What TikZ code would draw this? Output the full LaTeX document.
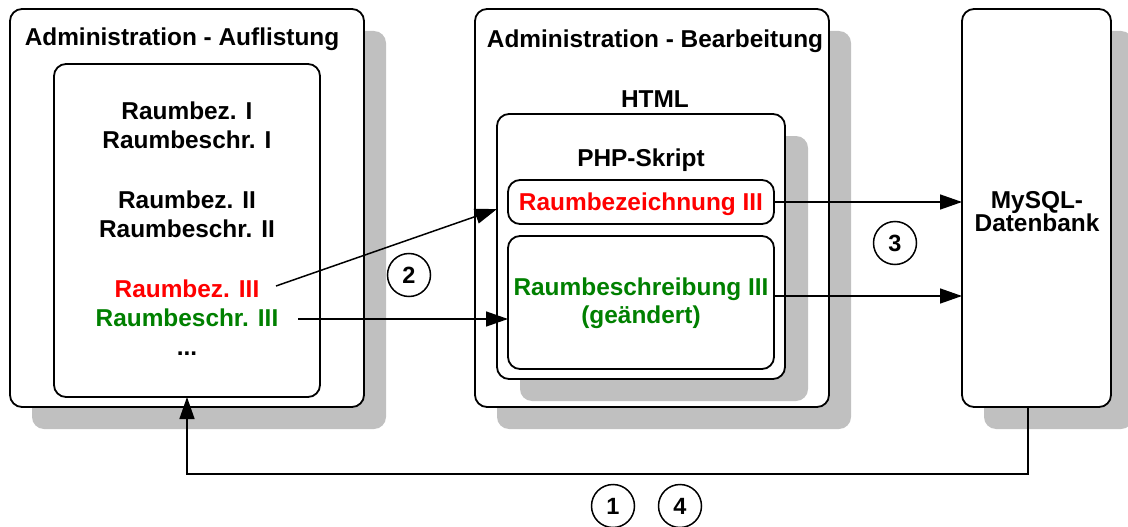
\documentclass[tikz,border=0pt]{standalone}
\usepackage{fontspec}
\setmainfont{Liberation Sans}
\usetikzlibrary{arrows.meta,shadows}
\definecolor{shade}{HTML}{C0C0C0}
\definecolor{hired}{HTML}{FF0000}
\definecolor{higreen}{HTML}{008000}
\begin{document}
\begin{tikzpicture}[x=1pt,y=-1pt,
  panel/.style={draw, line width=1.8pt, rounded corners=12pt, fill=white,
    inner sep=0pt, outer sep=0pt},
  shadowed/.style={drop shadow={shadow xshift=22pt, shadow yshift=-22pt,
    fill=shade, opacity=1}},
  txt/.style={font=\fontsize{24.4}{28}\selectfont\bfseries, inner sep=0pt, anchor=base},
  conn/.style={line width=1.5pt, -{Triangle[length=22pt,width=15pt]}},
  badge/.style={circle, draw, line width=1.5pt, minimum size=43pt, inner sep=0pt,
    font=\fontsize{23.5}{26}\selectfont\bfseries}
]
\useasboundingbox (0,0) rectangle (1128,527);

% --- listing page ---
\node[panel, shadowed, minimum width=354pt, minimum height=398pt] (lout) at (187,208) {};
\node[txt] (ltitle) at (182,46) {Administration - Auflistung};
\node[panel, minimum width=266pt, minimum height=333pt] (lin) at (187,230.5) {};
\node[txt] (rb1) at (187,119.5) {Raumbez. I};
\node[txt] (rs1) at (187,148) {Raumbeschr. I};
\node[txt] (rb2) at (187,208) {Raumbez. II};
\node[txt] (rs2) at (187,237) {Raumbeschr. II};
\node[txt, text=hired] (rb3) at (187,297) {Raumbez. III};
\node[txt, text=higreen] (rs3) at (187,326) {Raumbeschr. III};
\node[txt] (dots) at (187,355) {...};

% --- edit page ---
\node[panel, shadowed, minimum width=354pt, minimum height=398pt] (mout) at (652,208) {};
\node[txt] (mtitle) at (655,47.5) {Administration - Bearbeitung};
\node[txt] (htmltxt) at (655,107) {HTML};
\node[panel, drop shadow={shadow xshift=23pt, shadow yshift=-22pt, fill=shade, opacity=1},
  minimum width=288pt, minimum height=265pt] (html) at (641,246.5) {};
\node[txt] (php) at (641,166) {PHP-Skript};
\node[panel, minimum width=266pt, minimum height=44pt] (rbz) at (641,202) {};
\node[txt, text=hired] (rbztxt) at (641,210) {Raumbezeichnung III};
\node[panel, minimum width=266pt, minimum height=133pt] (rbs) at (641,302.5) {};
\node[txt, text=higreen] (rbstxt1) at (641,295) {Raumbeschreibung III};
\node[txt, text=higreen] (rbstxt2) at (641,323) {(geändert)};

% --- database ---
\node[panel, shadowed, minimum width=149pt, minimum height=398pt] (db) at (1036.5,208) {};
\node[txt] (dbtxt1) at (1037,208) {MySQL-};
\node[txt] (dbtxt2) at (1037,231) {Datenbank};

% --- connectors ---
\coordinate (s2) at (276,286);
\coordinate (t2) at (497,209);
\draw[conn] (s2) -- (t2);
\coordinate (s3) at (298,319);
\draw[conn] (s3) -- (s3 -| rbs.west);
\draw[conn] (rbz.east) -- (rbz.east -| db.west);
\draw[conn] ([yshift=6.5pt]rbs.east) -- ([yshift=6.5pt]rbs.east -| db.west);
\coordinate (loopR) at (1028,474);
\coordinate (loopL) at (187,474);
\draw[conn] ([xshift=-8.5pt]db.south) -- (loopR) -- (loopL) -- (lin.south);

% --- step numbers ---
\node[badge] (n2) at (409,275) {2};
\node[badge] (n3) at (895,243) {3};
\node[badge] (n1) at (613,506) {1};
\node[badge] (n4) at (680,506) {4};
\end{tikzpicture}
\end{document}
